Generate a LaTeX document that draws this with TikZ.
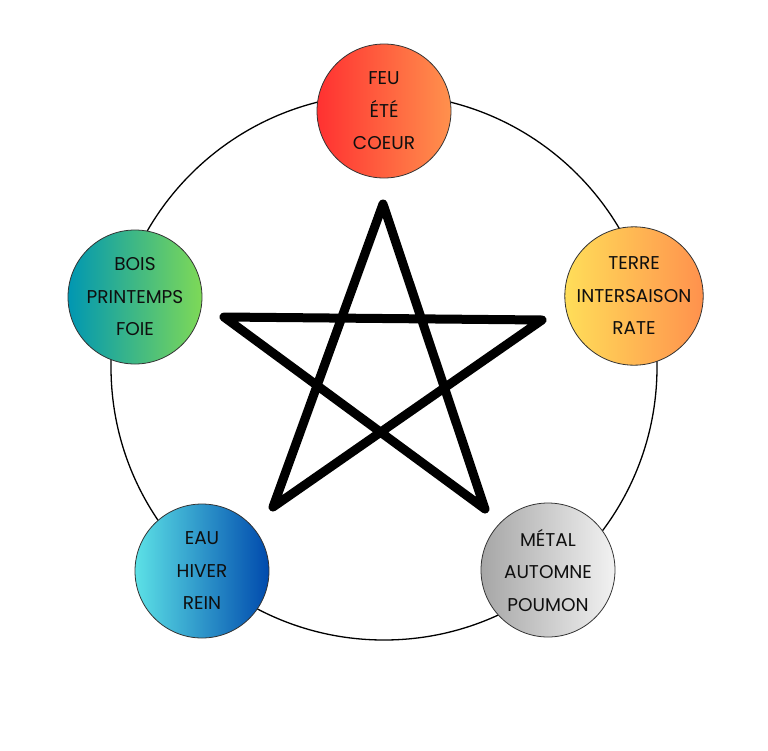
\documentclass[tikz,border=0pt]{standalone}
\usepackage{fontspec}
\setmainfont{Poppins}
\definecolor{txt}{HTML}{0F0F0F}
\definecolor{feuL}{HTML}{FF3131}
\definecolor{feuR}{HTML}{FF914D}
\definecolor{terreL}{HTML}{FFDE59}
\definecolor{terreR}{HTML}{FF914D}
\definecolor{metalL}{HTML}{A6A6A6}
\definecolor{metalR}{HTML}{F2F2F2}
\definecolor{eauL}{HTML}{5CE1E6}
\definecolor{eauR}{HTML}{004AAD}
\definecolor{boisL}{HTML}{0097B2}
\definecolor{boisR}{HTML}{7ED957}
\begin{document}
\begin{tikzpicture}[x=1pt,y=-1pt,
  elem/.style={circle, draw=black!80, line width=0.8pt, minimum size=134pt, inner sep=0pt,
    align=center, text=txt, font=\fontsize{18.5}{32.5}\selectfont}]
\useasboundingbox (0,0) rectangle (768,750);
\node[circle, draw=black, line width=1.3pt, minimum size=546pt, inner sep=0pt] (ring) at (384,367) {};
\coordinate (s1) at (383,204);
\coordinate (s2) at (273,507);
\coordinate (s3) at (542,320);
\coordinate (s4) at (224,317);
\coordinate (s5) at (485,509);
\draw[line width=9pt, line cap=round, line join=round] (s1) -- (s2) -- (s3) -- (s4) -- (s5) -- cycle;
\node[elem, left color=feuL, right color=feuR] (feu) at (384,111) {FEU\\ÉTÉ\\COEUR};
\node[elem, left color=terreL, right color=terreR] (terre) at (634,296) {TERRE\\INTERSAISON\\RATE};
\node[elem, left color=metalL, right color=metalR] (metal) at (548,570) {MÉTAL\\AUTOMNE\\POUMON};
\node[elem, left color=eauL, right color=eauR] (eau) at (202,571) {EAU\\HIVER\\REIN};
\node[elem, left color=boisL, right color=boisR] (bois) at (135,297) {BOIS\\PRINTEMPS\\FOIE};
\end{tikzpicture}
\end{document}
